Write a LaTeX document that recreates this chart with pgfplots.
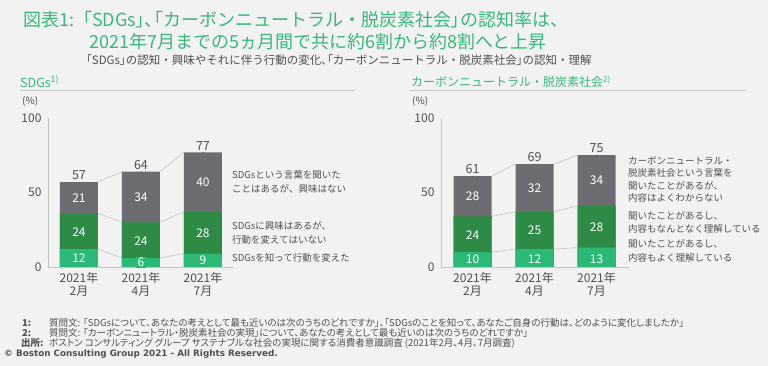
\documentclass[border=0pt]{standalone}
\usepackage{fontspec}
\setmainfont{Noto Sans CJK JP}
\newfontfamily\jpp{Noto Sans CJK JP}[RawFeature={+palt}]
\newfontfamily\copyfont{DejaVu Sans}
\usepackage{pgfplots}
\pgfplotsset{compat=1.18}
\usepackage{pgfplotstable}
\definecolor{bg}{HTML}{F2F2F2}
\definecolor{lightgreen}{HTML}{2CB877}
\definecolor{titlegreen}{HTML}{3AB67C}
\definecolor{darkgreen}{HTML}{2E8B45}
\definecolor{bargray}{HTML}{6C6D70}
\definecolor{txtgray}{HTML}{505050}
\definecolor{linegray}{HTML}{C4C4C4}
\newcommand\fs[2]{\fontsize{#1}{#2}\selectfont}
\newcommand\pb[1]{{\jpp #1}}

\pgfplotstableread{
x c1 c2 c3 v1 v2 v3 m1 m2 m3 tot
0 12 36 57 12 24 21 6 23.5 46.5 57
1 6 30 64 6 24 34 3 17.5 46.5 64
2 9 37 77 9 28 40 4.5 23 57 77
}\sdgs
\pgfplotstableread{
x y
0.306 12
0.694 6
nan nan
1.306 6
1.694 9
nan nan
0.306 36
0.694 30
nan nan
1.306 30
1.694 37
nan nan
0.306 57
0.694 64
nan nan
1.306 64
1.694 77
}\sdgslines
\pgfplotstableread{
x c1 c2 c3 v1 v2 v3 m1 m2 m3 tot
0 10 34 61 10 24 28 5 21.5 47.5 61
1 12 37 69 12 25 32 5.5 24.5 53 69
2 13 41 75 13 28 34 5.5 27 58 75
}\carbon
\pgfplotstableread{
x y
0.315 10
0.685 12
nan nan
1.315 12
1.685 13
nan nan
0.315 34
0.685 37
nan nan
1.315 37
1.685 41
nan nan
0.315 61
0.685 69
nan nan
1.315 69
1.685 75
}\carbonlines

\pgfplotsset{
  barchart/.style={
    scale only axis, anchor=south west, height=149pt,
    ymin=0, ymax=100, clip=false,
    axis lines=left, axis line style={-, draw=linegray, line width=0.7pt},
    xtick={0,1,2}, ytick={0,50,100}, major tick length=0pt,
    xticklabels={{2021年\\2月},{2021年\\4月},{2021年\\7月}},
    xticklabel style={align=center, font=\fs{12}{13}, text=txtgray, yshift=-2pt},
    yticklabel style={font=\fs{12}{13}, text=txtgray, xshift=-3pt},
    /pgf/number format/assume math mode=true,
  },
  segbar/.style={ybar, bar width=38pt, bar shift=0pt, draw=none, fill=#1},
  seglab/.style={only marks, mark=*, mark size=0.01pt, mark options={draw=none, fill=none},
    nodes near coords, point meta=explicit symbolic,
    nodes near coords style={anchor=center, text=white, font=\fs{12}{13}, inner sep=1.5pt, #1}},
  totlab/.style={only marks, mark=*, mark size=0.01pt, mark options={draw=none, fill=none},
    nodes near coords, point meta=explicit symbolic,
    nodes near coords style={anchor=south, text=txtgray, font=\fs{12.5}{13}, inner sep=2pt}},
}

\begin{document}
\begin{tikzpicture}[x=1pt,y=1pt]
\fill[bg] (0,0) rectangle (768,366);
\useasboundingbox (0,0) rectangle (768,366);

% Title
\node[anchor=west, text=titlegreen, font=\fs{18}{20}, inner sep=0] at (23,346) {図表1:「SDGs\pb{」、「}カーボンニュートラル・脱炭素社会\pb{」}の認知率は、};
\node[anchor=west, text=titlegreen, font=\fs{18}{20}, inner sep=0] at (89,324) {2021年7月までの5ヵ月間で共に約6割から約8割へと上昇};
\node[anchor=west, text=txtgray, font=\fs{11.5}{12}, inner sep=0] at (86,306) {\pb{「SDGs」}の認知・興味やそれに伴う行動の変化\pb{、「}カーボンニュートラル・脱炭素社会\pb{」}の認知・理解};

% Left header
\node[anchor=west, text=titlegreen, font=\fs{12.5}{14}, inner sep=0] at (20,284.5) {SDGs\textsuperscript{1)}};
\draw[linegray, line width=0.8pt] (20,276) -- (355,276);
\node[anchor=west, text=txtgray, font=\fs{10}{11}, inner sep=0] at (22,264.5) {(\%)};

% Right header
\node[anchor=west, text=titlegreen, font=\fs{12}{14}, inner sep=0] at (411,284.5) {カーボンニュートラル・脱炭素社会\textsuperscript{2)}};
\draw[linegray, line width=0.8pt] (410,276) -- (746,276);
\node[anchor=west, text=txtgray, font=\fs{10}{11}, inner sep=0] at (412,264.5) {(\%)};

% Left chart
\begin{axis}[barchart, at={(48pt,99pt)}, width=185pt, xmin=-0.5, xmax=2.484]
\addplot[linegray, line width=0.6pt, unbounded coords=jump] table[x=x,y=y]{\sdgslines};
\addplot[segbar=bargray] table[x=x,y=c3]{\sdgs};
\addplot[segbar=darkgreen] table[x=x,y=c2]{\sdgs};
\addplot[segbar=lightgreen] table[x=x,y=c1]{\sdgs};
\addplot[seglab={}] table[x=x,y=m3,meta=v3]{\sdgs};
\addplot[seglab={}] table[x=x,y=m2,meta=v2]{\sdgs};
\addplot[seglab={fill=lightgreen}] table[x=x,y=m1,meta=v1]{\sdgs};
\addplot[totlab] table[x=x,y=c3,meta=tot]{\sdgs};
\end{axis}

% Left labels
\node[anchor=west, align=left, text=txtgray, font=\fs{9.5}{14}, inner sep=0] at (232,184) {SDGsという言葉を聞いた\\ことはあるが、興味はない};
\node[anchor=west, align=left, text=txtgray, font=\fs{9.5}{14}, inner sep=0] at (232,133.5) {SDGsに興味はあるが、\\行動を変えてはいない};
\node[anchor=west, align=left, text=txtgray, font=\fs{9.5}{14}, inner sep=0] at (232,108) {SDGsを知って行動を変えた};

% Right chart
\begin{axis}[barchart, at={(441pt,99pt)}, width=188pt, xmin=-0.508, xmax=2.524]
\addplot[linegray, line width=0.6pt, unbounded coords=jump] table[x=x,y=y]{\carbonlines};
\addplot[segbar=bargray] table[x=x,y=c3]{\carbon};
\addplot[segbar=darkgreen] table[x=x,y=c2]{\carbon};
\addplot[segbar=lightgreen] table[x=x,y=c1]{\carbon};
\addplot[seglab={}] table[x=x,y=m3,meta=v3]{\carbon};
\addplot[seglab={}] table[x=x,y=m2,meta=v2]{\carbon};
\addplot[seglab={fill=lightgreen}] table[x=x,y=m1,meta=v1]{\carbon};
\addplot[totlab] table[x=x,y=c3,meta=tot]{\carbon};
\end{axis}

% Right labels
\node[anchor=west, align=left, text=txtgray, font=\fs{9.5}{12.5}, inner sep=0] at (628,186.7) {カーボンニュートラル・\\脱炭素社会という言葉を\\聞いたことがあるが、\\内容はよくわからない};
\node[anchor=west, align=left, text=txtgray, font=\fs{9.5}{13.5}, inner sep=0] at (628,143.6) {聞いたことがあるし、\\内容もなんとなく理解している};
\node[anchor=west, align=left, text=txtgray, font=\fs{9.5}{14}, inner sep=0] at (628,114.8) {聞いたことがあるし、\\内容もよく理解している};

% Footnotes
\begin{scope}[every node/.style={anchor=west, text=txtgray, inner sep=0, font=\jpp\fs{9.5}{10}}]
\node[font=\jpp\fs{9.5}{10}\bfseries] at (22,43.3) {1:};
\node at (49,43.3) {質問文: 「SDGsについて、あなたの考えとして最も近いのは次のうちのどれですか」、「SDGsのことを知って、あなたご自身の行動は、どのように変化しましたか」};
\node[font=\jpp\fs{9.5}{10}\bfseries] at (22,32.7) {2:};
\node at (49,32.7) {質問文: 「カーボンニュートラル・脱炭素社会の実現」について、あなたの考えとして最も近いのは次のうちのどれですか」};
\node[font=\jpp\fs{9.5}{10}\bfseries] at (21,22.7) {出所:};
\node at (49,22.7) {ボストン コンサルティング グループ サステナブルな社会の実現に関する消費者意識調査 (2021年2月、4月、7月調査)};
\end{scope}
\node[anchor=west, text=txtgray, font=\copyfont\fs{8.8}{9}\bfseries, inner sep=0] at (4,11.7) {© Boston Consulting Group 2021 - All Rights Reserved.};
\end{tikzpicture}
\end{document}
